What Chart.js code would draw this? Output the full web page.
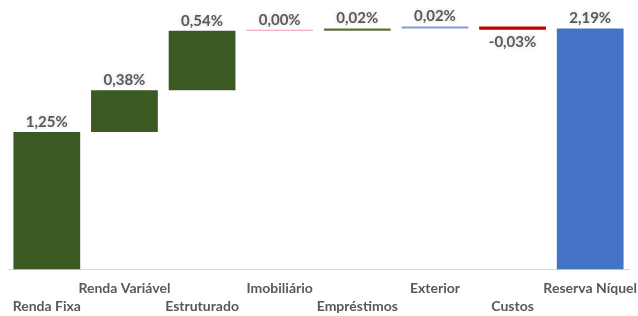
<!DOCTYPE html>
<html>
<head>
<meta charset="utf-8">
<script src="https://cdn.jsdelivr.net/npm/chart.js@4"></script>
<style>
  html, body { margin: 0; padding: 0; background: #fff; }
  #wrap { width: 638px; height: 316px; }
</style>
</head>
<body>
<div id="wrap"><canvas id="chart" width="638" height="316"></canvas></div>
<script>
    'use strict';

    // waterfall data (percent)
    const categories = ['Renda Fixa', 'Renda Variável', 'Estruturado', 'Imobiliário', 'Empréstimos', 'Exterior', 'Custos', 'Reserva Níquel'];
    const values = [1.25, 0.38, 0.54, 0.00, 0.02, 0.02, -0.03, 2.19];
    const isTotal = [false, false, false, false, false, false, false, true];
    const barColors = ['#3b5a23', '#3b5a23', '#3b5a23', '#e89aa6', '#5b703c', '#7f9fd6', '#c00000', '#4472c4'];

    // build floating ranges from the running sum
    let running = 0;
    const ranges = values.map(function (v, i) {
        if (isTotal[i]) return [0, v];
        const start = running;
        running += v;
        return [start, running];
    });

    const fmt = function (v) {
        return v.toFixed(2).replace('.', ',') + '%';
    };

    // value labels above (or below for negatives) each bar
    const valueLabels = {
        id: 'valueLabels',
        afterDatasetsDraw: function (chart) {
            const ctx = chart.ctx;
            const meta = chart.getDatasetMeta(0);
            ctx.save();
            ctx.font = 'bold 15px Lato, "Open Sans", sans-serif';
            ctx.fillStyle = '#595959';
            ctx.textAlign = 'center';
            ctx.textBaseline = 'middle';
            ctx.shadowColor = 'rgba(0,0,0,0.18)';
            ctx.shadowBlur = 4;
            meta.data.forEach(function (bar, i) {
                const v = values[i];
                const top = Math.min(bar.y, bar.base);
                const bottom = Math.max(bar.y, bar.base);
                const y = v < 0 ? bottom + 12 : top - 10;
                ctx.fillText(fmt(v), bar.x, y);
            });
            ctx.restore();
        }
    };

    const ctx = document.getElementById('chart').getContext('2d');
    new Chart(ctx, {
        type: 'bar',
        data: {
            labels: categories,
            datasets: [{
                data: ranges,
                backgroundColor: barColors,
                borderWidth: 0,
                minBarLength: 1,
                barPercentage: 0.86,
                categoryPercentage: 1
            }]
        },
        options: {
            responsive: false,
            animation: false,
            layout: { padding: { left: 8, right: 9, top: 22, bottom: -10 } },
            plugins: {
                legend: { display: false },
                tooltip: { enabled: false }
            },
            scales: {
                x: {
                    grid: { display: false, drawTicks: false },
                    border: { display: true, color: '#d9d9d9', width: 1 },
                    // let the last label overhang instead of shrinking the plot
                    afterFit: function (scale) {
                        scale.paddingLeft = 0;
                        scale.paddingRight = 0;
                    },
                    ticks: {
                        autoSkip: false,
                        maxRotation: 0,
                        padding: 10,
                        color: '#595959',
                        font: { family: 'Lato, "Open Sans", sans-serif', size: 14, weight: 'bold', lineHeight: 1.3 },
                        callback: function (value, index) {
                            // stagger labels on two rows
                            return index % 2 === 0 ? ['', categories[index]] : [categories[index]];
                        }
                    }
                },
                y: {
                    display: false,
                    min: 0,
                    max: 2.25
                }
            }
        },
        plugins: [valueLabels]
    });
</script>
</body>
</html>
